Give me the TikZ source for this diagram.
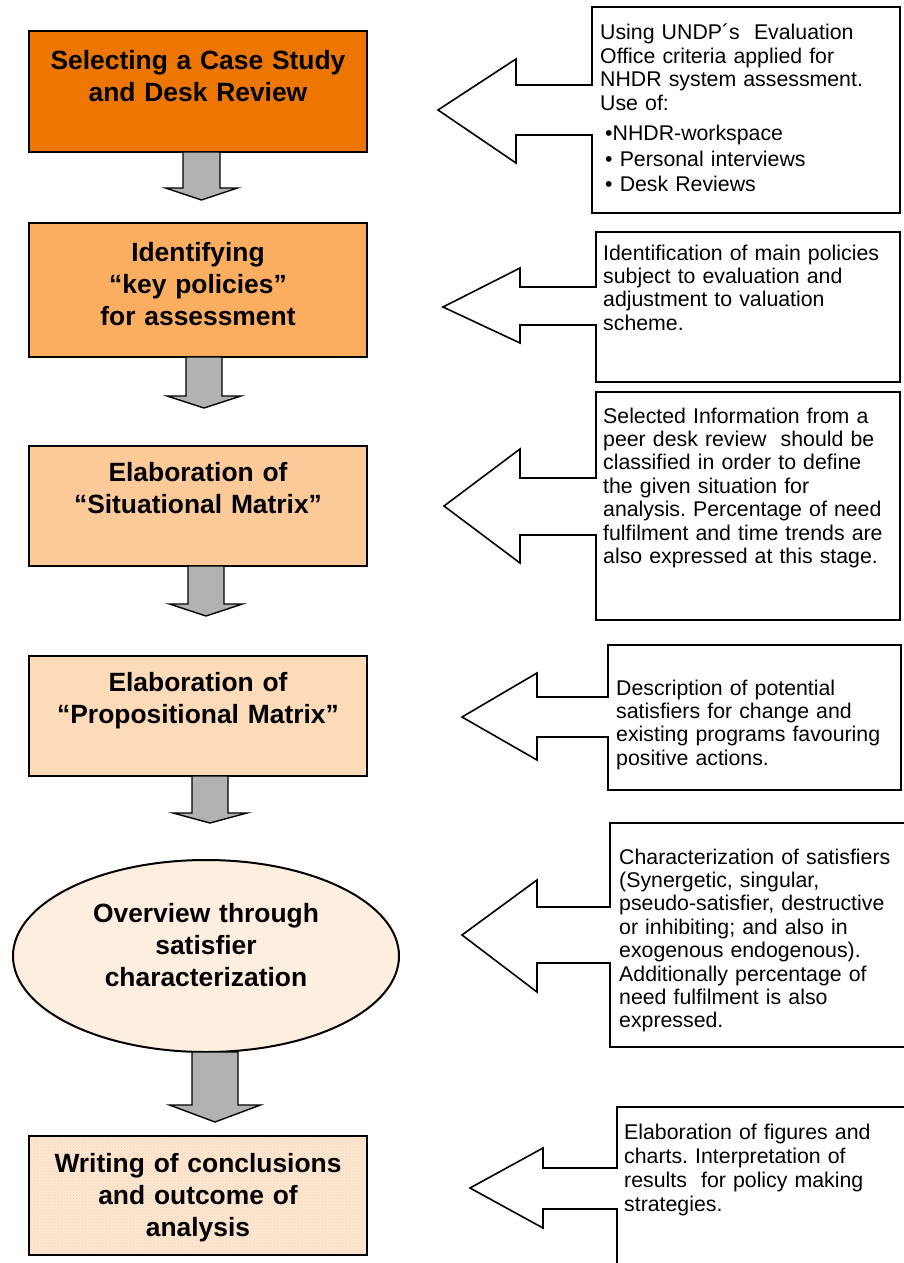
\documentclass[tikz,border=0pt]{standalone}
\usepackage{fontspec}
\setmainfont{Liberation Sans}
\usetikzlibrary{calc,patterns,shapes.geometric}
\frenchspacing

\definecolor{stageA}{RGB}{236,118,0}
\definecolor{stageB}{RGB}{252,174,96}
\definecolor{stageC}{RGB}{252,201,152}
\definecolor{stageD}{RGB}{253,218,184}
\definecolor{stageE}{RGB}{253,238,224}
\definecolor{conclBase}{RGB}{253,232,212}
\definecolor{conclDots}{RGB}{247,204,168}
\definecolor{arrowgray}{RGB}{178,178,178}

\begin{document}
\begin{tikzpicture}[x=1pt,y=-1pt,
  stage/.style={draw=black, line width=2.2pt, rectangle, minimum width=338pt,
    inner sep=0pt, outer sep=0pt},
  stagetext/.style={font=\fontsize{26.4}{32}\selectfont\bfseries, align=center,
    text width=330pt, inner sep=0pt, anchor=base},
  note/.style={font=\fontsize{21.3}{23.4}\selectfont, align=left,
    text width=300pt, inner sep=0pt, anchor=base west},
  callout/.style={draw=black, line width=1.6pt, fill=white, line join=miter},
  blockarrow/.style={draw=black, line width=1.4pt, fill=arrowgray, line join=miter},
  pics/downblock/.style n args={4}{code={%
    \path[blockarrow] (-#1,0) -- (-#1,#3) -- (-#2,#3) -- (0,#3+#4)
      -- (#2,#3) -- (#1,#3) -- (#1,0) -- cycle;}}
]
\useasboundingbox (0,0) rectangle (904,1263);
\clip (0,0) rectangle (904,1263);

% ---- callout shapes: a box with a block arrow pointing left ----
\path[callout] (592,85) -- (592,7) -- (900,7) -- (900,213) -- (592,213)
  -- (592,135) -- (516,135) -- (516,163) -- (438,110) -- (516,59) -- (516,85) -- cycle;
\path[callout] (596,287) -- (596,232) -- (900,232) -- (900,382) -- (596,382)
  -- (596,325) -- (520,325) -- (520,343) -- (443,307) -- (520,268) -- (520,287) -- cycle;
\path[callout] (596,478) -- (596,392) -- (900,392) -- (900,620) -- (596,620)
  -- (596,535) -- (520,535) -- (520,563) -- (444,506) -- (520,449) -- (520,478) -- cycle;
\path[callout] (608,697) -- (608,645) -- (901,645) -- (901,790) -- (608,790)
  -- (608,737) -- (537,737) -- (537,760) -- (462,717) -- (537,673) -- (537,697) -- cycle;
\path[callout] (610,907) -- (610,823) -- (910,823) -- (910,1047) -- (610,1047)
  -- (610,963) -- (537,963) -- (537,992) -- (462,935) -- (537,880) -- (537,907) -- cycle;
\path[callout] (617,1168) -- (617,1107) -- (910,1107) -- (910,1275) -- (617,1275)
  -- (617,1209) -- (543,1209) -- (543,1228) -- (470,1188) -- (543,1148) -- (543,1168) -- cycle;

% ---- callout texts ----
\node[note] (n1) at (600,40) {Using UNDP´s\ \ Evaluation\\
  Office criteria applied for\\
  NHDR system assessment.\\
  Use of:\\[7pt]
  \hspace*{5pt}•NHDR-workspace\\[2.3pt]
  \hspace*{5pt}• Personal interviews\\[2.3pt]
  \hspace*{5pt}• Desk Reviews};
\node[note] (n2) at (603,260) {Identification of main policies\\
  subject to evaluation and\\
  adjustment to valuation\\
  scheme.};
\node[note] (n3) at (603,423) {Selected Information from a\\
  peer desk review\ \ should be\\
  classified in order to define\\
  the given situation for\\
  analysis. Percentage of need\\
  fulfilment and time trends are\\
  also expressed at this stage.};
\node[note] (n4) at (616,695) {Description of potential\\
  satisfiers for change and\\
  existing programs favouring\\
  positive actions.};
\node[note] (n5) at (619,864) {Characterization of satisfiers\\
  (Synergetic, singular,\\
  pseudo-satisfier, destructive\\
  or inhibiting; and also in\\
  exogenous endogenous).\\
  Additionally percentage of\\
  need fulfilment is also\\
  expressed.};
\node[note, font=\fontsize{21.3}{24.2}\selectfont] (n6) at (624,1139) {Elaboration of figures and\\
  charts. Interpretation of\\
  results\ \ for policy making\\
  strategies.};

% ---- process stages ----
\node[stage, fill=stageA, minimum height=121pt] (s1) at (198,91.5) {};
\node[stage, fill=stageB, minimum height=134pt] (s2) at (198,290) {};
\node[stage, fill=stageC, minimum height=120pt] (s3) at (198,506) {};
\node[stage, fill=stageD, minimum height=120pt] (s4) at (198,716) {};
\node[ellipse, draw=black, line width=2pt, fill=stageE, minimum width=386pt,
  minimum height=192pt, inner sep=0pt, outer sep=0pt] (s5) at (206,956) {};
\node[stage, preaction={fill=conclBase}, pattern=crosshatch dots,
  pattern color=conclDots, minimum height=119pt] (s6) at (198,1195.5) {};

\node[stagetext] (t1) at (198,69.5) {Selecting a Case Study\\and Desk Review};
\node[stagetext] (t2) at (198,261.5) {Identifying\\“key policies”\\for assessment};
\node[stagetext] (t3) at (198,481.5) {Elaboration of\\“Situational Matrix”};
\node[stagetext] (t4) at (198,691.5) {Elaboration of\\“Propositional Matrix”};
\node[stagetext] (t5) at (206,922.5) {Overview through\\satisfier\\characterization};
\node[stagetext] (t6) at (198,1172.5) {Writing of conclusions\\and outcome of\\analysis};

% ---- grey block arrows between stages ----
\pic at ($(s1.south)+(3.5,0)$) {downblock={18.5}{36}{36}{12}};
\pic at ($(s2.south)+(6,0)$) {downblock={18}{37}{39}{12}};
\pic at ($(s3.south)+(8,0)$) {downblock={18}{36.5}{38}{12}};
\pic at ($(s4.south)+(12,0)$) {downblock={18}{37}{37}{10}};
\pic at ($(s5.south)+(9,0)$) {downblock={23}{45.5}{53}{17}};
\end{tikzpicture}
\end{document}
